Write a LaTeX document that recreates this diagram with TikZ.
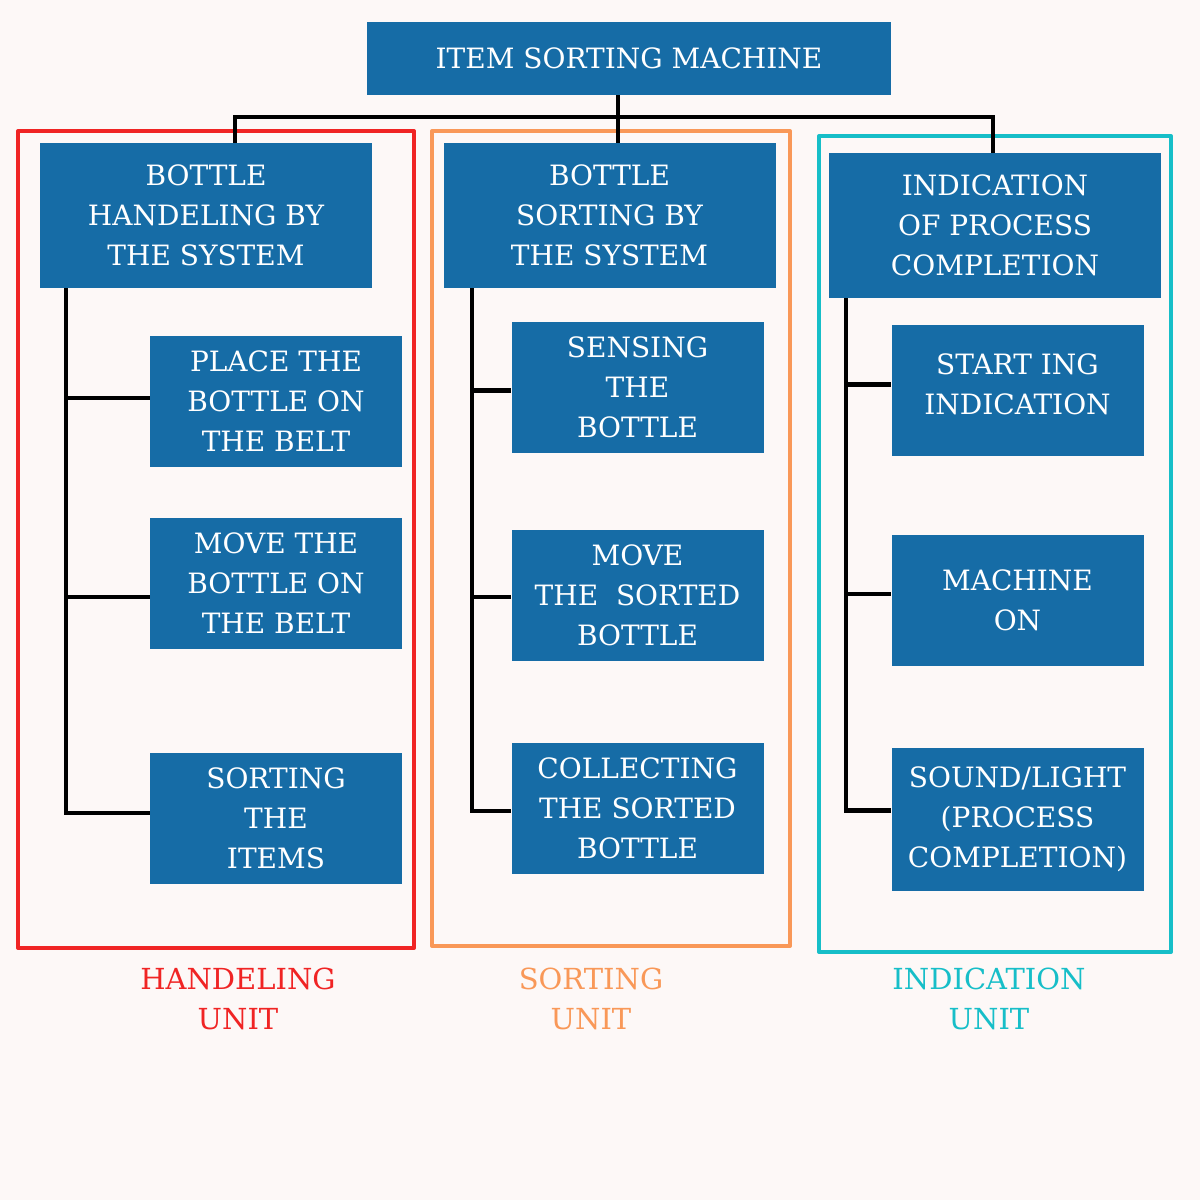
\documentclass[tikz,border=0pt]{standalone}
\usepackage{fontspec}
\setmainfont{DejaVu Serif}
\usetikzlibrary{calc}

\definecolor{boxblue}{HTML}{166CA6}
\definecolor{bgcol}{HTML}{FDF8F7}
\definecolor{unitred}{HTML}{F02424}
\definecolor{unitorange}{HTML}{F99858}
\definecolor{unitcyan}{HTML}{17BEC8}

\tikzstyle{block}=[rectangle,fill=boxblue,text=white,align=center,inner sep=0pt,
  font=\fontsize{14}{20}\selectfont]
\tikzstyle{head}=[block,minimum width=262pt,minimum height=36.5pt]
\tikzstyle{unit}=[block,minimum width=166pt,minimum height=72.5pt]
\tikzstyle{task}=[block,minimum width=126pt,minimum height=65.5pt]
\tikzstyle{link}=[draw=black,line width=2.2pt]
\tikzstyle{frame}=[line width=2pt,line join=round]
\tikzstyle{unitname}=[align=center,font=\fontsize{14.5}{20}\selectfont]

\begin{document}
\begin{tikzpicture}[x=0.5pt,y=-0.5pt]
  \fill[bgcol] (0,0) rectangle (1200,1200);
  \useasboundingbox (0,0) rectangle (1200,1200);

  % unit frames
  \draw[frame,unitred]    (18,131)  rectangle (414,948);
  \draw[frame,unitorange] (432,131) rectangle (790,946);
  \draw[frame,unitcyan]   (819,136) rectangle (1171,952);

  \node[head] (top) at (629,58.5) {ITEM SORTING MACHINE};

  \node[unit] (b1) at (206,215.5)   {BOTTLE\\HANDELING BY\\THE SYSTEM};
  \node[unit] (b2) at (609.5,215.5) {BOTTLE\\SORTING BY\\THE SYSTEM};
  \node[unit] (b3) at (995,225.5)   {INDICATION\\OF PROCESS\\COMPLETION};

  \node[task] (l1) at (276,401) {PLACE THE\\BOTTLE ON\\THE BELT};
  \node[task] (l2) at (276,583) {MOVE THE\\BOTTLE ON\\THE BELT};
  \node[task] (l3) at (276,818) {SORTING\\THE\\ITEMS};

  \node[task] (m1) at (637.5,387.5) {SENSING\\THE\\BOTTLE};
  \node[task] (m2) at (637.5,595)   {MOVE\\THE\ \ SORTED\\BOTTLE};
  \node[task] (m3) at (637.5,808)   {COLLECTING\\THE SORTED\\BOTTLE};

  \node[task] (r1) at (1017.5,390.5) {START ING\\INDICATION\\[-14pt]};
  \node[task] (r2) at (1017.5,600)   {MACHINE\\ON};
  \node[task,minimum height=71.5pt] (r3) at (1017.5,819.5) {SOUND/LIGHT\\(PROCESS\\COMPLETION)};

  % bus from the top box
  \coordinate (j1) at (235,117);
  \coordinate (j2) at (618,117);
  \coordinate (j3) at (993,117);
  \draw[link] (b1.north -| j1) -- (j1) -- (j3) -- (b3.north -| j3);
  \draw[link] (top.south -| j2) -- (b2.north -| j2);

  % spines
  \coordinate (sl) at (66,0);
  \coordinate (sm) at (472,0);
  \coordinate (sr) at (846,0);
  \draw[link] (b1.south -| sl) |- ($(l3.west)+(0,-5)$);
  \draw[link] (b2.south -| sm) |- ($(m3.west)+(0,3)$);
  \draw[link] (b3.south -| sr) |- ($(r3.west)+(0,-9)$);
  \foreach \from/\to/\dy in {sl/l1/-3, sl/l2/14, sm/m1/3, sm/m2/2, sr/r1/-6, sr/r2/-6}
    \draw[link] ($(\to.west -| \from)+(0,\dy)$) -- ($(\to.west)+(0,\dy)$);

  \node[unitname,unitred]    (n1) at (238,999) {HANDELING\\UNIT};
  \node[unitname,unitorange] (n2) at (591,999) {SORTING\\UNIT};
  \node[unitname,unitcyan]   (n3) at (989,999) {INDICATION\\UNIT};
\end{tikzpicture}
\end{document}
